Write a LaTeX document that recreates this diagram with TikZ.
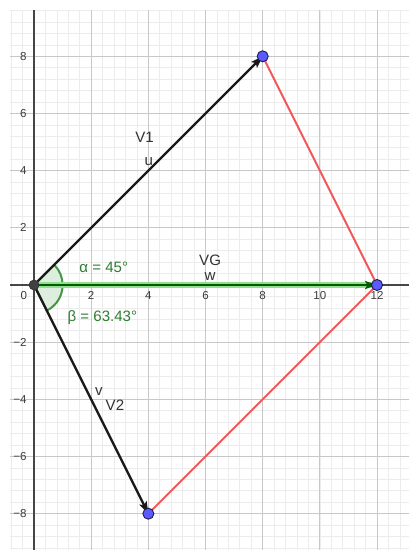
\documentclass[tikz,border=0pt]{standalone}
\usepackage{fontspec}
\setmainfont{Liberation Sans}
\usetikzlibrary{arrows.meta}
\definecolor{minorgridc}{RGB}{236,236,236}
\definecolor{majorgridc}{RGB}{200,200,200}
\definecolor{axisc}{RGB}{70,70,70}
\definecolor{tickc}{RGB}{60,60,60}
\definecolor{redseg}{RGB}{240,90,90}
\definecolor{wcore}{RGB}{0,90,0}
\definecolor{wglow}{RGB}{145,222,145}
\definecolor{sectfill}{RGB}{222,238,222}
\definecolor{sectdraw}{RGB}{70,150,70}
\definecolor{anglec}{RGB}{46,125,50}
\definecolor{bluefill}{RGB}{90,90,255}
\definecolor{blueedge}{RGB}{30,30,70}
\definecolor{origfill}{RGB}{64,64,64}
\tikzset{
  minorgrid/.style={draw=minorgridc, line width=0.7pt},
  majorgrid/.style={draw=majorgridc, line width=0.9pt},
  axisline/.style={draw=axisc, line width=1.3pt},
  ticklbl/.style={text=tickc, font=\fontsize{11.5}{13}\selectfont, inner sep=1pt},
  vecline/.style={draw=black!90, line width=2.4pt, -{Stealth[length=12pt,width=8pt,inset=2.5pt]}},
  wline/.style={draw=wcore, line width=2.2pt, -{Stealth[length=12pt,width=8pt,inset=2.5pt]}},
  wglowline/.style={draw=wglow, line width=5.5pt},
  redline/.style={draw=redseg, line width=2pt},
  sector/.style={fill=sectfill, draw=sectdraw, line width=2pt},
  anglelbl/.style={text=anglec, font=\fontsize{15}{18}\selectfont, inner sep=0pt},
  veclbl/.style={text=black!80, font=\fontsize{15}{18}\selectfont, inner sep=0pt},
  bluept/.style={circle, fill=bluefill, draw=blueedge, line width=0.9pt, minimum size=11pt, inner sep=0pt},
  origpt/.style={circle, fill=origfill, draw=black!80, line width=0.6pt, minimum size=10pt, inner sep=0pt}
}
\begin{document}
\begin{tikzpicture}[x=1cm,y=1cm]
\useasboundingbox (-1.19,-9.27) rectangle (13.12,9.97);
\fill[white] (-1.19,-9.27) rectangle (13.12,9.97);
% grid
\begin{scope}
  \clip (-0.84,-9.27) rectangle (13.12,9.62);
  \draw[minorgrid, step=0.4] (-1.2,-10) grid (14,10);
  \draw[majorgrid, step=2] (-2,-10) grid (14,10);
\end{scope}
% axes
\draw[axisline] (-0.84,0) -- (13.12,0);
\draw[axisline] (0,-9.27) -- (0,9.62);
% tick labels
\node[ticklbl, anchor=north east] (t0) at (-0.2,-0.2) {0};
\foreach \x in {2,4,6,8,10,12} {
  \node[ticklbl, anchor=north] (tx\x) at (\x,-0.2) {\x};
}
\foreach \y in {2,4,6,8} {
  \node[ticklbl, anchor=east] (ty\y) at (-0.22,\y) {\y};
  \node[ticklbl, anchor=east] (tym\y) at (-0.22,-\y) {−\y};
}
% coordinates
\coordinate (O) at (0,0);
\coordinate (A) at (8,8);
\coordinate (B) at (12,0);
\coordinate (C) at (4,-8);
% angle sectors
\filldraw[sector] (O) -- (1.0,0) arc[start angle=0, end angle=45, radius=1.0] -- cycle;
\filldraw[sector] (O) -- (1.0,0) arc[start angle=0, end angle=-63.435, radius=1.0] -- cycle;
% red segments
\draw[redline] (A) -- (B);
\draw[redline] (B) -- (C);
% vectors
\draw[wglowline] (O) -- (B);
\draw[wline] (O) -- (B);
\draw[vecline] (O) -- (A);
\draw[vecline] (O) -- (C);
% points
\node[origpt] (Op) at (O) {};
\node[bluept] (Ap) at (A) {};
\node[bluept] (Bp) at (B) {};
\node[bluept] (Cp) at (C) {};
% labels
\node[anglelbl] (la) at (2.44,0.63) {α = 45°};
\node[anglelbl] (lb) at (2.39,-1.15) {β = 63.43°};
\node[veclbl] (lV1) at (3.87,5.17) {V1};
\node[veclbl] (lu) at (4.02,4.3) {u};
\node[veclbl] (lVG) at (6.16,0.86) {VG};
\node[veclbl] (lw) at (6.16,0.3) {w};
\node[veclbl] (lv) at (2.27,-3.72) {v};
\node[veclbl] (lV2) at (2.83,-4.2) {V2};
\end{tikzpicture}
\end{document}
